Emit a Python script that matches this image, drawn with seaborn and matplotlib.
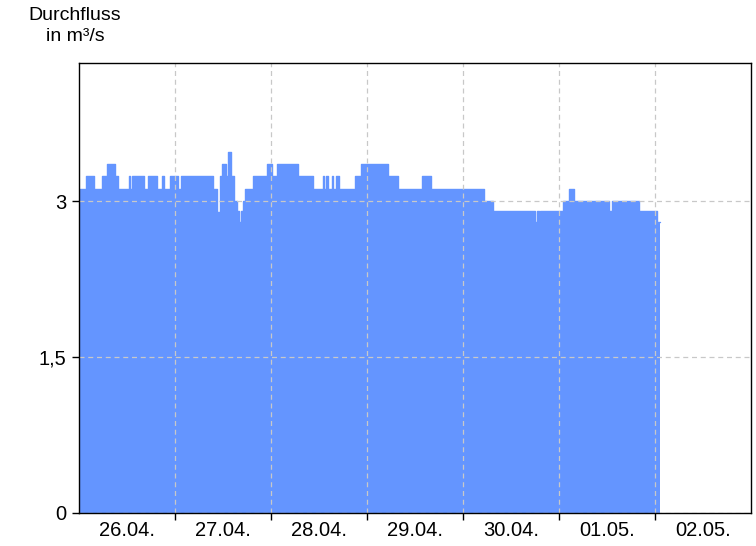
import matplotlib
matplotlib.use("Agg")
import matplotlib.pyplot as plt
import seaborn as sns
import pandas as pd
import numpy as np

# hours since 26.04. 00:00 and discharge (m³/s), step changes
hours = [0, 1.75, 3.75, 5.75, 7.0, 9.0, 9.75, 12.5, 12.75, 13.25, 16.25, 17.25,
         19.5, 20.75, 21.25, 22.75, 24.75, 25.5, 33.5, 34.5, 35.25, 35.75, 36.75,
         37.25, 38.0, 38.75, 39.5, 40.0, 40.5, 41.0, 41.5, 43.5, 47.0, 48.25, 49.5,
         54.75, 58.5, 61.0, 61.25, 61.75, 62.25, 63.25, 63.5, 64.25, 65.0, 69.0,
         70.5, 77.25, 79.75, 85.75, 88.0, 101.25, 103.5, 114.0, 114.5, 115.0,
         115.25, 121.0, 122.5, 123.75, 132.5, 133.25, 140.0, 144.5, 145.25]
flow = [3.12, 3.24, 3.12, 3.24, 3.36, 3.24, 3.12, 3.24, 3.12, 3.24, 3.12, 3.24,
        3.12, 3.24, 3.12, 3.24, 3.12, 3.24, 3.12, 2.89, 3.24, 3.36, 3.24,
        3.47, 3.24, 3.0, 2.9, 2.80, 2.9, 3.0, 3.12, 3.24, 3.36, 3.24, 3.36,
        3.24, 3.12, 3.24, 3.12, 3.24, 3.12, 3.24, 3.12, 3.24, 3.12, 3.24,
        3.36, 3.24, 3.12, 3.24, 3.12, 3.0, 2.90, 2.80, 2.90, 2.80,
        2.90, 3.0, 3.12, 3.0, 2.90, 3.0, 2.90, 2.80, 2.80]

day_labels = ["26.04.", "27.04.", "28.04.", "29.04.", "30.04.", "01.05.", "02.05."]
y_ticks = [0, 1.5, 3]
y_tick_labels = ["0", "1,5", "3"]

df = pd.DataFrame({"h": hours, "q": flow})

sns.set_style("white")
plt.rcParams["font.family"] = ["Liberation Sans", "DejaVu Sans"]
plt.rcParams["text.color"] = "black"
plt.rcParams["xtick.color"] = "black"
plt.rcParams["ytick.color"] = "black"

fig = plt.figure(figsize=(7.56, 5.46), dpi=100)
ax = fig.add_axes([79/756, 1-513/546, 672/756, 450/546])

color = "#6495ff"
ax.fill_between(df["h"], 0, df["q"], step="post", color=color, linewidth=0, zorder=1)
sns.lineplot(data=df, x="h", y="q", ax=ax, drawstyle="steps-post", color=color,
             linewidth=1.0, zorder=2)

ax.set_xlim(0, 168)
ax.set_ylim(0, 4.327)

ax.set_xticks([24 * i for i in range(1, 7)])
ax.set_xticklabels([])
ax.set_xticks([12 + 24 * i for i in range(7)], minor=True)
ax.set_xticklabels(day_labels, minor=True)
ax.tick_params(axis="x", which="major", length=5, width=1, color="black", direction="out", bottom=True)
ax.tick_params(axis="x", which="minor", length=0, labelsize=14.5, pad=6, labelcolor="black")
ax.set_yticks(y_ticks)
ax.set_yticklabels(y_tick_labels)
ax.tick_params(axis="y", length=5, width=1, color="black", direction="out", left=True,
               labelsize=14.5, pad=4, labelcolor="black")

ax.grid(True, axis="both", which="major", linestyle=(0, (4, 3)), color="#c8c8c8", linewidth=0.9, zorder=3)
ax.set_axisbelow(False)
for s in ax.spines.values():
    s.set_color("black")
    s.set_linewidth(1.0)
    s.set_zorder(5)

ax.set_xlabel("")
ax.set_ylabel("")
fig.text(75/756, 1-26/546, "Durchfluss\nin m³/s", ha="center", va="center", fontsize=14,
         linespacing=1.3, color="black")

fig.savefig("out.png", dpi=100)
